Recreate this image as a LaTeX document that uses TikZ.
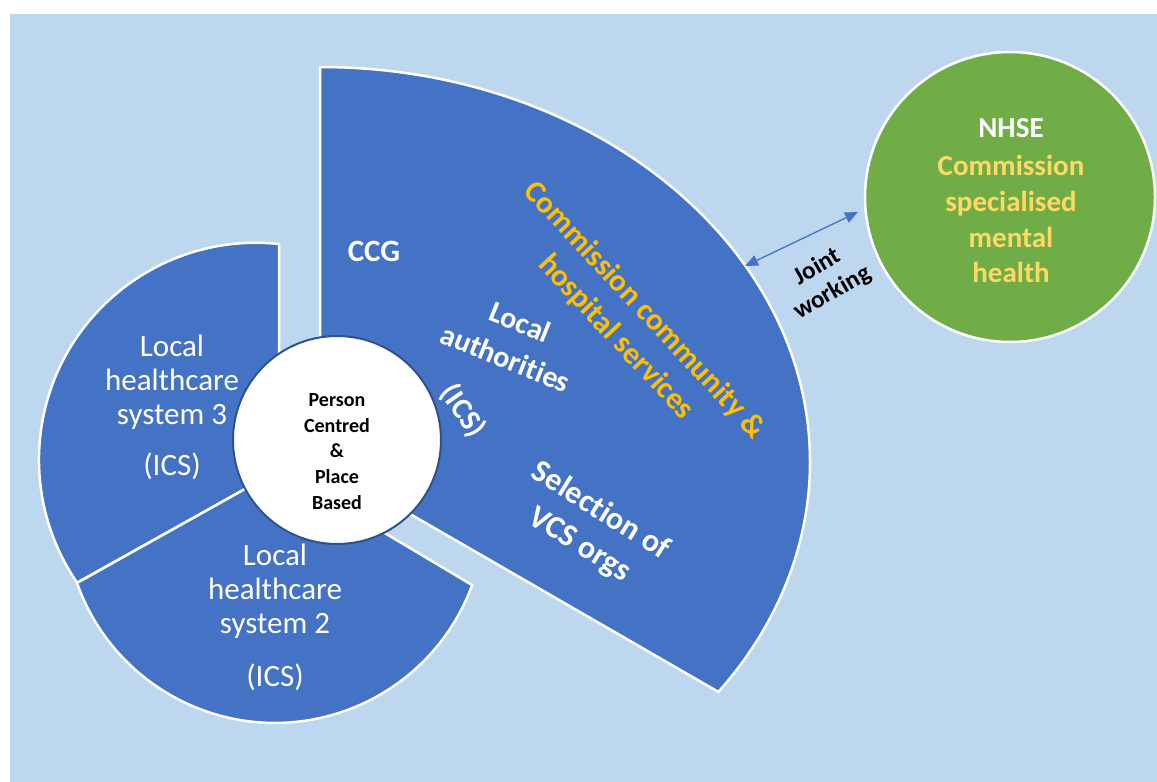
\documentclass[tikz,border=0pt]{standalone}
\usepackage{fontspec}
\setmainfont{Carlito}[Ligatures=NoCommon]
\usetikzlibrary{arrows.meta}
\definecolor{paleblue}{HTML}{BDD7EE}
\definecolor{sliceblue}{HTML}{4472C4}
\definecolor{rimblue}{HTML}{2F528F}
\definecolor{leafgreen}{HTML}{70AD47}
\definecolor{amber}{HTML}{FFC000}
\definecolor{softgold}{HTML}{FFD966}
\tikzset{
  slice/.style={fill=sliceblue, draw=white, line width=2.5pt, line join=miter},
  hubdisc/.style={circle, fill=white, draw=rimblue, line width=2pt, minimum size=208pt, inner sep=0pt},
  nhsedisc/.style={circle, fill=leafgreen, draw=white, line width=2.5pt, minimum size=290pt, inner sep=0pt},
  txt/.style={inner sep=0pt, outer sep=0pt},
  sysline/.style={txt, anchor=base, text=white, font=\fontsize{31}{34}\selectfont},
  hubline/.style={txt, anchor=base, text=black, font=\bfseries\fontsize{20}{26}\selectfont},
  nhseline/.style={txt, anchor=base, font=\bfseries\fontsize{29}{36}\selectfont},
  tilted/.style={txt, align=center, text=white},
  joint/.style={draw=sliceblue, line width=1.3pt, {Triangle[length=13pt,width=11pt]}-{Triangle[length=13pt,width=11pt]}},
}
\begin{document}
\begin{tikzpicture}[x=1pt,y=-1pt]
\useasboundingbox (0,0) rectangle (1157,782);
\fill[white] (0,0) rectangle (1157,782);
\fill[paleblue] (10,14) rectangle (1157,782);

% slices for local healthcare systems 3 and 2
\path[slice] (279,244) arc[start angle=-83.9, end angle=-214.5, radius=217] -- (279,470) -- cycle;
\path[slice] (77,583) arc[start angle=160.5, end angle=20.1, radius=210] -- (279,470) -- cycle;
% the large CCG slice
\path[slice] (320,67) arc[start angle=-90, end angle=35.6, x radius=490, y radius=395] -- (320,462) -- cycle;

% centre disc and NHSE disc
\node[hubdisc] (hub) at (337,440) {};
\node[nhsedisc] (nhse) at (1010,197) {};

% joint working link
\coordinate (jwA) at (745,266);
\coordinate (jwB) at (858,212);
\draw[joint] (jwA) -- (jwB);

% slice texts
\foreach \t/\y [count=\i] in {Local/356, healthcare/390, system 3/424, (ICS)/475}
  \node[sysline, name=sysc-\i] at (172,\y) {\t};
\foreach \t/\y [count=\i] in {Local/565, healthcare/599, system 2/633, (ICS)/686}
  \node[sysline, name=sysb-\i] at (275,\y) {\t};
\foreach \t/\y [count=\i] in {Person/406, Centred/432, \&/457, Place/483, Based/509}
  \node[hubline, name=hubt-\i] at (337,\y) {\t};

\node[nhseline, text=white] (nhse-1) at (1011,137) {NHSE};
\foreach \t/\y [count=\i from 2] in {Commission/175, specialised/211, mental/247, health/282}
  \node[nhseline, text=softgold, name=nhse-\i] at (1011,\y) {\t};

\node[txt, anchor=base, text=white, font=\bfseries\fontsize{31}{36}\selectfont] (ccg) at (374,261) {CCG};
\node[tilted, text=amber, rotate=-47, font=\bfseries\fontsize{31}{39}\selectfont] (commission) at (630,324) {Commission community \&\\hospital services};
\node[tilted, rotate=-22, font=\bfseries\fontsize{30}{39}\selectfont] (la) at (513,340) {Local\\authorities};
\node[tilted, rotate=-55, font=\bfseries\fontsize{30}{36}\selectfont] (ics) at (463,411) {(ICS)};
\node[tilted, rotate=-32, font=\bfseries\fontsize{32}{40}\selectfont] (vcs) at (590,528) {Selection of\\VCS orgs};
\node[tilted, text=black, rotate=30, font=\bfseries\fontsize{25}{30}\selectfont] (jw) at (825,280) {Joint\\working};
\end{tikzpicture}
\end{document}
